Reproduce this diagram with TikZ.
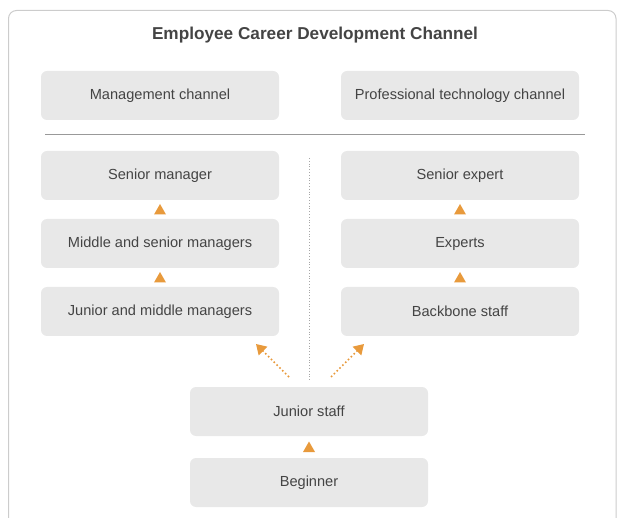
\documentclass[tikz,border=0pt]{standalone}
\usepackage{fontspec}
\setmainfont{Liberation Sans}
\usetikzlibrary{calc,arrows.meta}
\begin{document}
\begin{tikzpicture}[x=1pt,y=-1pt,
  box/.style={fill=boxgray,rounded corners=6pt,minimum width=238pt,minimum height=49pt,inner sep=0pt,text=txt,font=\fontsize{14.6}{16}\selectfont},
  dotarrow/.style={draw=tri,line width=1.6pt,dash pattern=on 1.6pt off 2.4pt,-{Triangle[length=10pt,width=12pt]}}]
\definecolor{boxgray}{HTML}{E8E8E8}
\definecolor{txt}{HTML}{444444}
\definecolor{tri}{HTML}{E89A3C}
\definecolor{frame}{HTML}{CCCCCC}
\useasboundingbox (0,0) rectangle (618,518);
\begin{scope}
\clip (0,0) rectangle (618,518);
\draw[frame,line width=1pt,rounded corners=8pt] (8.5,10.5) rectangle (616,540);
\end{scope}
\node[font=\bfseries\fontsize{17.2}{20}\selectfont,text=txt] (title) at (315,35) {Employee Career Development Channel};
\node[box] (mc) at (160,95.5) {Management channel};
\node[box] (pc) at (460,95.5) {Professional technology channel};
\coordinate (hl) at (45,135); \coordinate (hr) at (585,135);
\draw[draw=gray!80,line width=1pt] (hl) -- (hr);
\node[box] (sm) at (160,175.5) {Senior manager};
\node[box] (ms) at (160,243.5) {Middle and senior managers};
\node[box] (jm) at (160,311.5) {Junior and middle managers};
\node[box] (se) at (460,175.5) {Senior expert};
\node[box] (ex) at (460,243.5) {Experts};
\node[box] (bs) at (460,311.5) {Backbone staff};
\node[box] (js) at (309,411.5) {Junior staff};
\node[box] (bg) at (309,482.5) {Beginner};
\coordinate (vt) at (309,158); \coordinate (vb) at (309,380);
\draw[gray!70,line width=0.8pt,dotted] (vt) -- (vb);
\tikzset{uptri/.pic={\fill[tri] (-6,5) -- (6,5) -- (0,-5.5) -- cycle;}}
\path ($(sm.south)!0.5!(ms.north)$) pic {uptri};
\path ($(ms.south)!0.5!(jm.north)$) pic {uptri};
\path ($(se.south)!0.5!(ex.north)$) pic {uptri};
\path ($(ex.south)!0.5!(bs.north)$) pic {uptri};
\path ($(js.south)!0.5!(bg.north)$) pic {uptri};
\coordinate (la) at (289,377); \coordinate (lb) at (256,344);
\coordinate (ra) at (331,377); \coordinate (rb) at (364,344);
\draw[dotarrow] (la) -- (lb);
\draw[dotarrow] (ra) -- (rb);
\end{tikzpicture}
\end{document}
